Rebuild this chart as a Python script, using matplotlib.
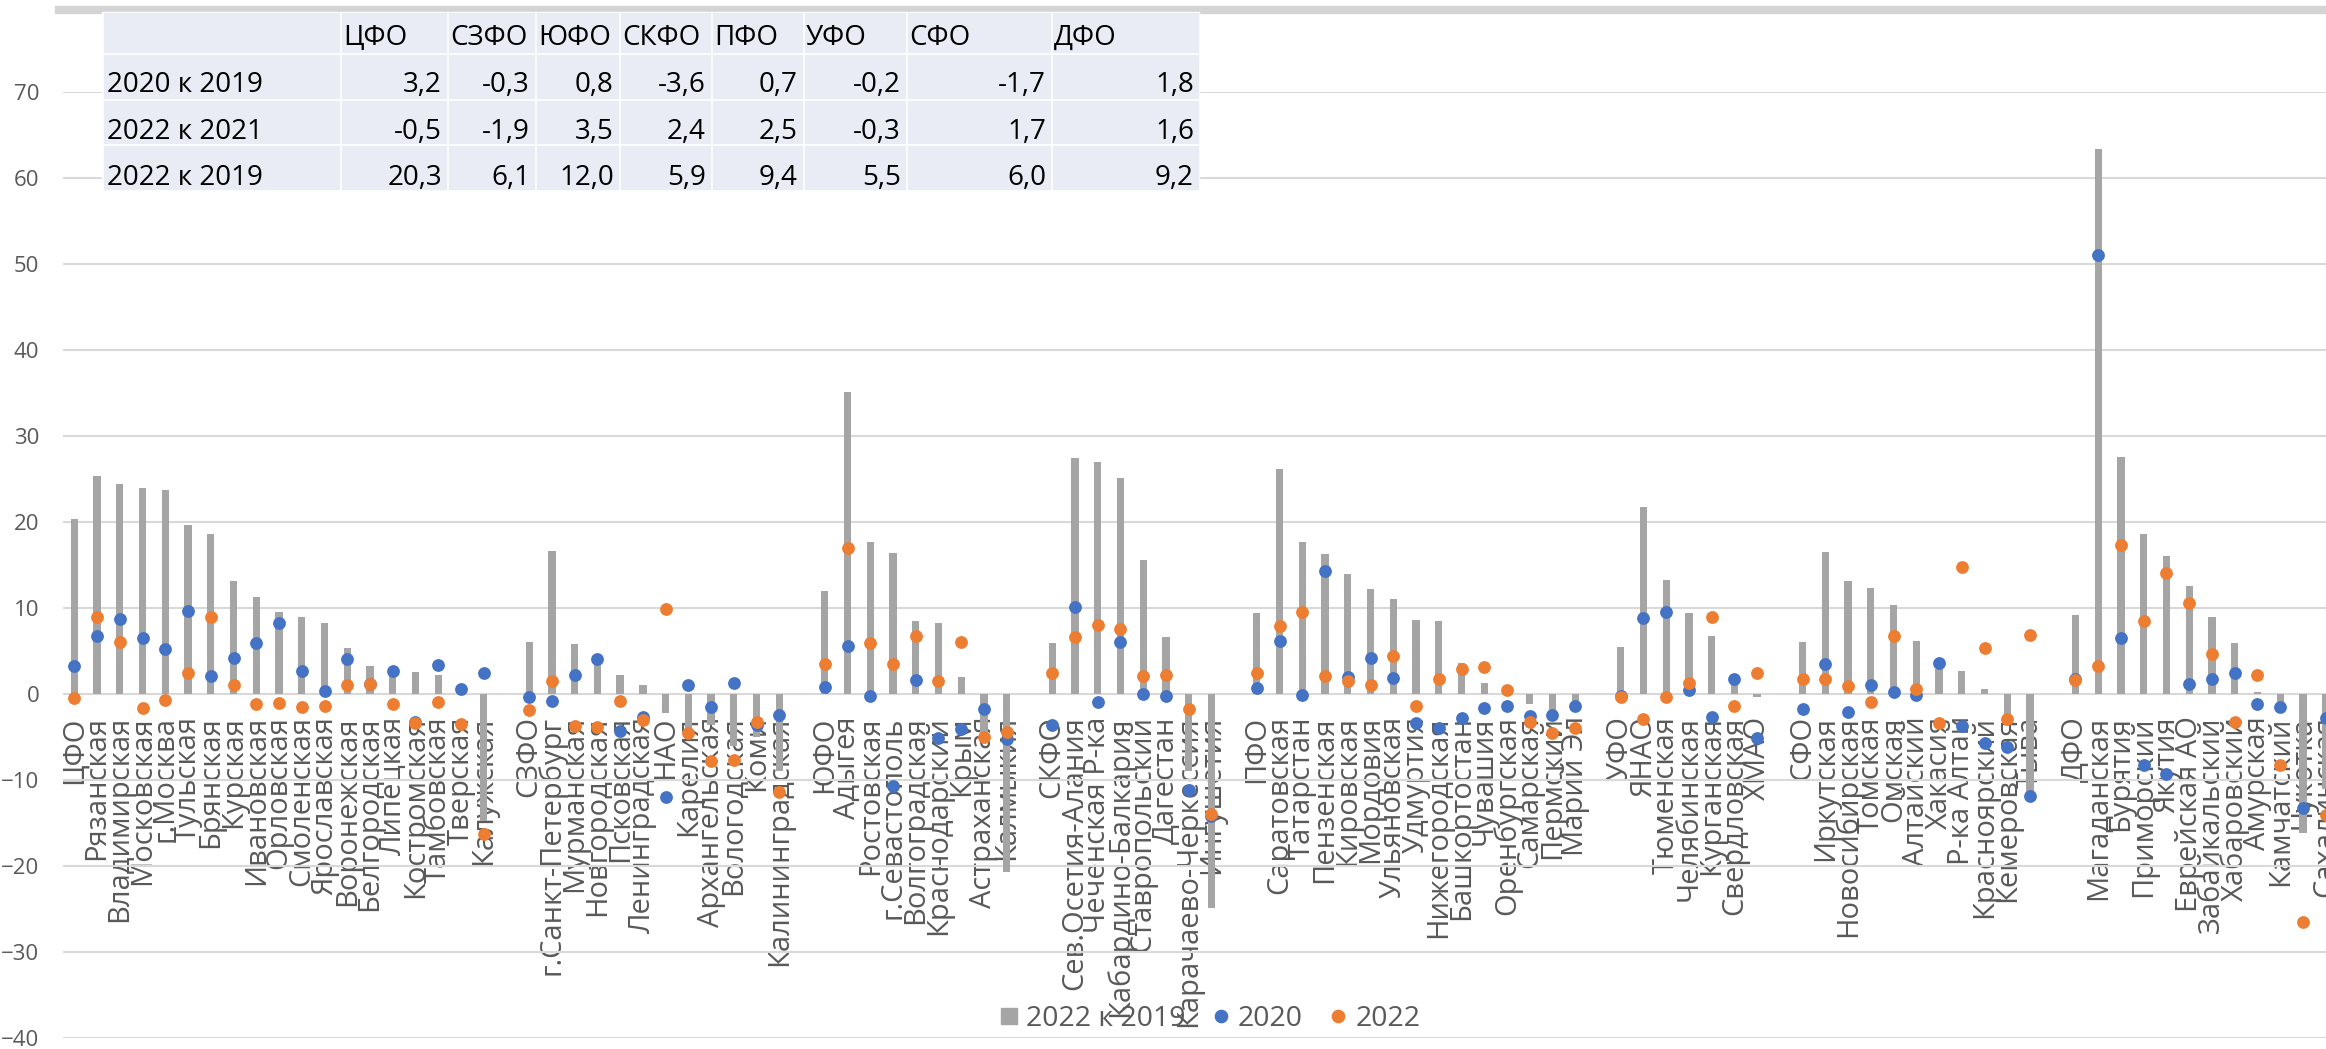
import numpy as np
import matplotlib
matplotlib.use('Agg')
import matplotlib.pyplot as plt
from matplotlib.patches import Rectangle
from matplotlib.lines import Line2D

plt.rcParams['font.family'] = ['Open Sans', 'DejaVu Sans']

# регионы по федеральным округам, '' - пустой промежуток между округами
regions = [
    'ЦФО', 'Рязанская', 'Владимирская', 'Московская', 'г.Москва', 'Тульская', 'Брянская',
    'Курская', 'Ивановская', 'Орловская', 'Смоленская', 'Ярославская', 'Воронежская',
    'Белгородская', 'Липецкая', 'Костромская', 'Тамбовская', 'Тверская', 'Калужская', '',
    'СЗФО', 'г.Санкт-Петербург', 'Мурманская', 'Новгородская', 'Псковская', 'Ленинградская',
    'НАО', 'Карелия', 'Архангельская', 'Вологодская', 'Коми', 'Калининградская', '',
    'ЮФО', 'Адыгея', 'Ростовская', 'г.Севастополь', 'Волгоградская', 'Краснодарский',
    'Крым', 'Астраханская', 'Калмыкия', '',
    'СКФО', 'Сев.Осетия-Алания', 'Чеченская Р-ка', 'Кабардино-Балкария', 'Ставропольский',
    'Дагестан', 'Карачаево-Черкессия', 'Ингушетия', '',
    'ПФО', 'Саратовская', 'Татарстан', 'Пензенская', 'Кировская', 'Мордовия', 'Ульяновская',
    'Удмуртия', 'Нижегородская', 'Башкортостан', 'Чувашия', 'Оренбургская', 'Самарская',
    'Пермский', 'Марий Эл', '',
    'УФО', 'ЯНАО', 'Тюменская', 'Челябинская', 'Курганская', 'Свердловская', 'ХМАО', '',
    'СФО', 'Иркутская', 'Новосибирская', 'Томская', 'Омская', 'Алтайский', 'Хакасия',
    'Р-ка Алтай', 'Красноярский', 'Кемеровская', 'Тыва', '',
    'ДФО', 'Магаданская', 'Бурятия', 'Приморский', 'Якутия', 'Еврейская АО', 'Забайкальский',
    'Хабаровский', 'Амурская', 'Камчатский', 'Чукотка', 'Сахалинская',
]

# 2022 к 2019
d2219 = [
    20.3, 25.4, 24.4, 23.9, 23.7, 19.6, 18.6, 13.1, 11.3, 9.5, 9.0, 8.3, 5.4, 3.2, 2.5, 2.6, 2.2, 0.3, -14.8, None,
    6.1, 16.6, 5.8, 4.0, 2.2, 1.1, -2.2, -4.0, -3.6, -6.0, -5.0, -9.0, None,
    12.0, 35.1, 17.7, 16.4, 8.5, 8.3, 2.0, -5.5, -20.7, None,
    5.9, 27.5, 27.0, 25.1, 15.6, 6.6, -9.0, -24.9, None,
    9.4, 26.2, 17.7, 16.3, 13.9, 12.2, 11.0, 8.6, 8.5, 3.6, 1.3, 0.1, -1.2, -2.5, -1.3, None,
    5.5, 21.8, 13.3, 9.4, 6.8, 1.0, -0.4, None,
    6.0, 16.5, 13.1, 12.3, 10.3, 6.2, 2.9, 2.7, 0.6, -2.5, -11.5, None,
    9.2, 63.4, 27.6, 18.6, 16.1, 12.6, 8.9, 5.9, 0.2, -1.3, -16.2, -11.0,
]

# 2020 к 2019
d2020 = [
    3.2, 6.7, 8.7, 6.5, 5.2, 9.6, 2.1, 4.2, 5.9, 8.2, 2.7, 0.4, 4.1, 1.2, 2.7, -3.2, 3.4, 0.6, 2.4, None,
    -0.3, -0.8, 2.2, 4.1, -4.3, -2.7, -12.0, 1.1, -1.5, 1.3, -3.6, -2.4, None,
    0.8, 5.6, -0.25, -10.7, 1.6, -5.1, -4.1, -1.7, -5.2, None,
    -3.6, 10.1, -0.9, 6.1, 0.0, -0.25, -11.2, -14.2, None,
    0.7, 6.2, -0.1, 14.3, 2.0, 4.2, 1.9, -3.4, -3.9, -2.8, -1.6, -1.4, -2.6, -2.4, -1.4, None,
    -0.2, 8.8, 9.5, 0.5, -2.7, 1.8, -5.1, None,
    -1.7, 3.5, -2.1, 1.1, 0.2, -0.1, 3.6, -3.7, -5.7, -6.2, -11.9, None,
    1.8, 51.0, 6.5, -8.2, -9.3, 1.2, 1.7, 2.4, -1.2, -1.5, -13.3, -2.8,
]

# 2022 к 2021
d2022 = [
    -0.5, 9.0, 6.1, -1.6, -0.7, 2.4, 8.9, 1.1, -1.2, -1.1, -1.5, -1.4, 1.1, 1.2, -1.2, -3.4, -0.9, -3.5, -16.3, None,
    -1.9, 1.5, -3.7, -3.8, -0.8, -3.0, 9.9, -4.5, -7.8, -7.7, -3.3, -11.4, None,
    3.5, 17.0, 5.9, 3.5, 6.8, 1.5, 6.1, -5.0, -4.4, None,
    2.4, 6.6, 8.0, 7.6, 2.1, 2.2, -1.7, -14.0, None,
    2.5, 7.9, 9.5, 2.1, 1.5, 1.0, 4.4, -1.4, 1.7, 2.9, 3.1, 0.5, -3.2, -4.5, -3.9, None,
    -0.3, -2.9, -0.4, 1.3, 8.9, -1.4, 2.5, None,
    1.7, 1.7, 0.9, -0.9, 6.7, 0.6, -3.4, 14.8, 5.3, -2.9, 6.9, None,
    1.6, 3.2, 17.3, 8.5, 14.1, 10.6, 4.7, -3.2, 2.2, -8.3, -26.5, -14.1,
]

# таблица по округам
districts = ['ЦФО', 'СЗФО', 'ЮФО', 'СКФО', 'ПФО', 'УФО', 'СФО', 'ДФО']
row_names = ['2020 к 2019', '2022 к 2021', '2022 к 2019']
t_2020 = [3.2, -0.3, 0.8, -3.6, 0.7, -0.2, -1.7, 1.8]
t_2022 = [-0.5, -1.9, 3.5, 2.4, 2.5, -0.3, 1.7, 1.6]
t_2219 = [20.3, 6.1, 12.0, 5.9, 9.4, 5.5, 6.0, 9.2]

W, H = 2326, 1049
GREY_TXT = '#595959'


def fx(px):
    return px / W


def fy(py):
    return 1 - py / H


fig = plt.figure(figsize=(W / 100, H / 100), dpi=100)
ax = fig.add_axes([fx(63), fy(1038), (2337 - 63) / W, (1038 - 92) / H])

x = np.arange(len(regions))
bars = np.array([np.nan if v is None else v for v in d2219])
p20 = np.array([np.nan if v is None else v for v in d2020])
p22 = np.array([np.nan if v is None else v for v in d2022])

ax.bar(x, np.nan_to_num(bars), width=0.32, color='#A5A5A5', zorder=1)
ax.scatter(x, p20, s=85, color='#4472C4', linewidths=0, zorder=3)
ax.scatter(x, p22, s=85, color='#ED7D31', linewidths=0, zorder=4)

ax.set_xlim(-0.5, len(regions) - 0.5)
ax.set_ylim(-40, 70)

# подписи регионов висят от нулевой линии
ax.spines['bottom'].set_position(('data', 0))
for s in ax.spines.values():
    s.set_visible(False)

mask = [r != '' for r in regions]
ax.set_xticks(x[mask], [r for r in regions if r])
ax.set_yticks(np.arange(-40, 71, 10))
ax.yaxis.grid(True, color='#D9D9D9', lw=1.5)
ax.set_axisbelow(True)
ax.tick_params(axis='x', length=0, pad=16, labelrotation=90, labelsize=21,
               labelcolor=GREY_TXT)
ax.tick_params(axis='y', length=0, pad=17, labelsize=16, labelcolor=GREY_TXT)

# легенда
handles = [
    Line2D([], [], marker='s', ls='', color='#A5A5A5', markersize=11.5),
    Line2D([], [], marker='o', ls='', color='#4472C4', markersize=8.8),
    Line2D([], [], marker='o', ls='', color='#ED7D31', markersize=8.8),
]
leg = fig.legend(handles, ['2022 к 2019', '2020', '2022'], ncol=3, frameon=False,
                 loc='center left', bbox_to_anchor=(fx(1000), fy(1019)),
                 bbox_transform=fig.transFigure, borderpad=0, borderaxespad=0,
                 handlelength=0.6, handletextpad=0.3, columnspacing=0.95,
                 fontsize=20.5, labelcolor=GREY_TXT)

# серая полоска сверху
fig.patches.append(Rectangle((fx(55), fy(13)), 1, 7 / H, transform=fig.transFigure,
                             color='#D4D4D4', zorder=5))

# таблица
col_edges = [102, 340, 447, 535, 619, 711, 803, 906, 1051, 1199]
row_edges = [12, 53, 99, 144, 190]
baselines = [45, 92, 139, 185]

fig.patches.append(Rectangle((fx(col_edges[0]), fy(row_edges[-1])),
                             (col_edges[-1] - col_edges[0]) / W,
                             (row_edges[-1] - row_edges[0]) / H,
                             transform=fig.transFigure, color='white', zorder=6))
for i in range(len(row_edges) - 1):
    for j in range(len(col_edges) - 1):
        x0, x1 = col_edges[j] + 1.5, col_edges[j + 1] - 1.5
        y0, y1 = row_edges[i] + 1.5, row_edges[i + 1] - 1.5
        fig.patches.append(Rectangle((fx(x0), fy(y1)), (x1 - x0) / W, (y1 - y0) / H,
                                     transform=fig.transFigure, color='#E9EBF5', zorder=7))

for j, name in enumerate(districts):
    fig.text(fx(col_edges[j + 1] + 3), fy(baselines[0]), name, fontsize=20,
             va='baseline', ha='left', zorder=8)

for i, (rname, vals) in enumerate(zip(row_names, [t_2020, t_2022, t_2219])):
    fig.text(fx(col_edges[0] + 5), fy(baselines[i + 1]), rname, fontsize=20,
             va='baseline', ha='left', zorder=8)
    for j, v in enumerate(vals):
        fig.text(fx(col_edges[j + 2] - 5), fy(baselines[i + 1]),
                 f'{v:.1f}'.replace('.', ','), fontsize=20,
                 va='baseline', ha='right', zorder=8)

fig.savefig('out.png', dpi=100)
